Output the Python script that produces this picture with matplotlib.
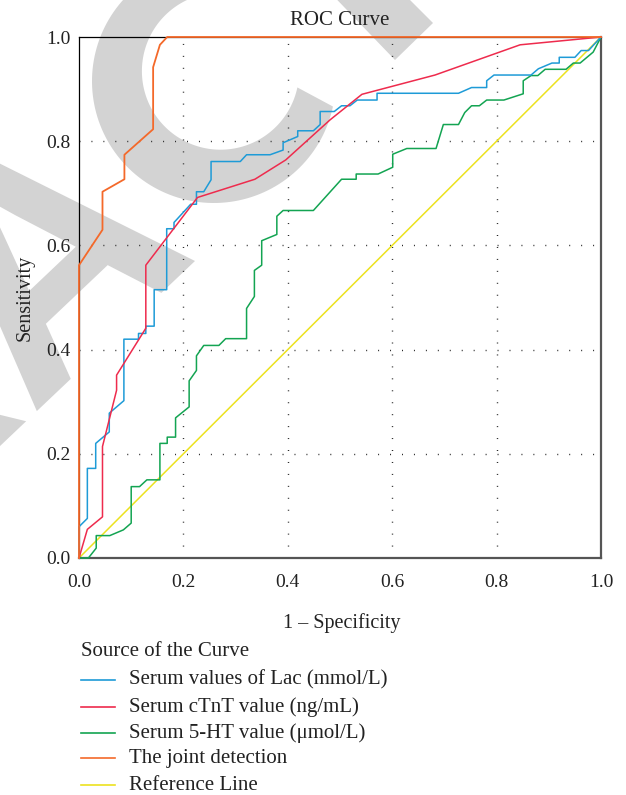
import numpy as np
import matplotlib
matplotlib.use("Agg")
import matplotlib.pyplot as plt
from matplotlib.lines import Line2D
from matplotlib.textpath import TextPath
from matplotlib.font_manager import FontProperties
from matplotlib.patches import PathPatch, Polygon
from matplotlib.transforms import Affine2D, IdentityTransform

# ---------------- data ----------------
lac_x = [0, 0, 0.016, 0.016, 0.032, 0.032, 0.058, 0.058, 0.086, 0.086,
         0.114, 0.114, 0.128, 0.128, 0.144, 0.144, 0.168, 0.168, 0.182, 0.182,
         0.214, 0.225, 0.225, 0.239, 0.253, 0.253, 0.309, 0.321, 0.366, 0.391,
         0.391, 0.419, 0.419, 0.449, 0.462, 0.462, 0.489, 0.503, 0.519, 0.533,
         0.571, 0.571, 0.727, 0.752, 0.781, 0.781, 0.795, 0.866, 0.880, 0.906,
         0.920, 0.920, 0.950, 0.962, 0.976, 1.0]
lac_y = [0, 0.060, 0.076, 0.172, 0.172, 0.220, 0.242, 0.278, 0.302, 0.420,
         0.420, 0.431, 0.431, 0.445, 0.445, 0.515, 0.515, 0.632, 0.632, 0.644,
         0.679, 0.679, 0.703, 0.703, 0.726, 0.761, 0.761, 0.774, 0.774, 0.783,
         0.797, 0.809, 0.820, 0.820, 0.832, 0.857, 0.857, 0.868, 0.868, 0.879,
         0.879, 0.892, 0.892, 0.903, 0.903, 0.916, 0.927, 0.927, 0.939, 0.950,
         0.950, 0.961, 0.961, 0.974, 0.974, 1.0]

ctnt_x = [0, 0.016, 0.045, 0.045, 0.072, 0.072, 0.128, 0.128, 0.227, 0.337,
          0.396, 0.481, 0.542, 0.682, 0.845, 1.0]
ctnt_y = [0, 0.055, 0.079, 0.214, 0.322, 0.351, 0.441, 0.562, 0.692, 0.727,
          0.764, 0.841, 0.890, 0.927, 0.985, 1.0]

ht_x = [0, 0.018, 0.033, 0.033, 0.059, 0.085, 0.100, 0.100, 0.116, 0.130,
        0.155, 0.155, 0.169, 0.169, 0.185, 0.185, 0.211, 0.211, 0.225, 0.225,
        0.239, 0.268, 0.281, 0.321, 0.321, 0.336, 0.336, 0.350, 0.350, 0.379,
        0.379, 0.391, 0.449, 0.503, 0.531, 0.531, 0.573, 0.601, 0.601, 0.628,
        0.684, 0.698, 0.727, 0.739, 0.752, 0.767, 0.781, 0.814, 0.851, 0.851,
        0.866, 0.879, 0.893, 0.933, 0.947, 0.960, 0.985, 1.0]
ht_y = [0, 0, 0.019, 0.043, 0.043, 0.054, 0.067, 0.137, 0.137, 0.150,
        0.150, 0.220, 0.220, 0.232, 0.232, 0.269, 0.290, 0.340, 0.360, 0.388,
        0.408, 0.408, 0.421, 0.421, 0.479, 0.502, 0.552, 0.562, 0.609, 0.621,
        0.656, 0.667, 0.667, 0.727, 0.727, 0.737, 0.737, 0.750, 0.775, 0.786,
        0.786, 0.832, 0.832, 0.855, 0.868, 0.868, 0.879, 0.879, 0.891, 0.916,
        0.926, 0.926, 0.938, 0.938, 0.950, 0.950, 0.971, 1.0]

joint_x = [0, 0, 0.045, 0.045, 0.087, 0.087, 0.142, 0.142, 0.155, 0.169, 1.0]
joint_y = [0, 0.562, 0.630, 0.703, 0.727, 0.774, 0.823, 0.942, 0.985, 1.0, 1.0]

ref_x = [0, 1]
ref_y = [0, 1]

series_labels = ["Serum values of Lac (mmol/L)", "Serum cTnT value (ng/mL)",
                 "Serum 5-HT value (\u03bcmol/L)", "The joint detection",
                 "Reference Line"]
series_colors = ["#1e9bd7", "#ee2b4d", "#13a452", "#f4692a", "#ece21f"]
tick_vals = [0.0, 0.2, 0.4, 0.6, 0.8, 1.0]
tick_labels = ["0.0", "0.2", "0.4", "0.6", "0.8", "1.0"]

# ---------------- figure ----------------
W, H = 626, 795
fig = plt.figure(figsize=(W / 100, H / 100), dpi=100)
fig.patch.set_facecolor("white")
SERIF = ["Liberation Serif", "DejaVu Serif"]
WM = "#d3d3d3"

# ---- watermark (light grey letters of "RETRACTED" behind the chart) ----
fp = FontProperties(family="Liberation Sans", weight="bold")
pA = TextPath((0, 0), "RETRA", size=325, prop=fp)
sA = -pA.get_extents().x1
trA = Affine2D().translate(sA, 0).rotate_deg(43.5).translate(195, H - 261)
fig.add_artist(PathPatch(trA.transform_path(pA), transform=IdentityTransform(),
                         facecolor=WM, edgecolor="none", zorder=-10))

# letter C as a thick open arc (pixel geometry, image coords y down)
t = np.radians(np.linspace(102, 348, 120))
ox, oy, R = 213.8, 81.2, 121.8
ix, iy, r = 220.5, 71.1, 78.6
outer = np.column_stack([ox + R * np.cos(t), H - (oy - R * np.sin(t))])
inner = np.column_stack([ix + r * np.cos(t[::-1]), H - (iy - r * np.sin(t[::-1]))])
fig.add_artist(Polygon(np.vstack([outer, inner]), closed=True,
                       transform=IdentityTransform(), facecolor=WM,
                       edgecolor="none", zorder=-10))

# stem of the following T
stem = [(320, -18), (395, 60), (433, 23), (392, -18)]
fig.add_artist(Polygon([(x, H - y) for x, y in stem], closed=True,
                       transform=IdentityTransform(), facecolor=WM,
                       edgecolor="none", zorder=-10))

# ---- axes ----
ax = fig.add_axes([79 / W, 1 - 558 / H, 522 / W, 521 / H])
ax.set_facecolor("none")
ax.set_xlim(0, 1)
ax.set_ylim(0, 1)

for v in tick_vals[1:-1]:
    ax.axvline(v, color="#222222", lw=1.0, dashes=(0.7, 7.9), zorder=1)
    ax.axhline(v, color="#222222", lw=1.0, dashes=(0.7, 7.9), zorder=1)

lw = 1.1
ax.plot(ref_x, ref_y, color=series_colors[4], lw=lw, zorder=2)
ax.plot(ht_x, ht_y, color=series_colors[2], lw=lw, zorder=3, clip_on=False)
ax.plot(lac_x, lac_y, color=series_colors[0], lw=lw, zorder=4, clip_on=False)
ax.plot(ctnt_x, ctnt_y, color=series_colors[1], lw=lw, zorder=5, clip_on=False)
ax.plot(joint_x, joint_y, color=series_colors[3], lw=lw + 0.2, zorder=6, clip_on=False)

for side in ["left", "top"]:
    ax.spines[side].set_color("black")
    ax.spines[side].set_linewidth(0.9)
for side in ["right", "bottom"]:
    ax.spines[side].set_color("#555555")
    ax.spines[side].set_linewidth(1.6)

ax.set_xticks(tick_vals)
ax.set_yticks(tick_vals)
ax.set_xticklabels(tick_labels, fontsize=14, family=SERIF, color="#222222")
ax.set_yticklabels(tick_labels, fontsize=14, family=SERIF, color="#222222")
ax.tick_params(axis="both", length=0)
ax.tick_params(axis="x", pad=11.5)
ax.tick_params(axis="y", pad=6)

ax.set_title("ROC Curve", fontsize=15, family=SERIF, color="#222222", pad=8.5)
fig.text(342 / W, 1 - 628 / H, "1 \u2013 Specificity", ha="center", va="baseline",
         fontsize=14.5, family=SERIF, color="#222222")
fig.text(25 / W, 1 - 298 / H, "Sensitivity", ha="center", va="center",
         rotation=90, fontsize=14.5, family=SERIF, color="#222222")

# ---- legend ----
fig.text(81 / W, 1 - 651 / H, "Source of the Curve", ha="left", va="center",
         fontsize=15, family=SERIF, color="#222222")
rows = [680, 707, 733, 758, 785]
for lab, col, ry in zip(series_labels, series_colors, rows):
    fig.add_artist(Line2D([81 / W, 115 / W], [1 - ry / H, 1 - ry / H],
                          color=col, lw=1.2, transform=fig.transFigure))
    fig.text(129 / W, 1 - ry / H, lab, ha="left", va="center",
             fontsize=15, family=SERIF, color="#222222")

fig.savefig("out.png", dpi=100, facecolor="white")
